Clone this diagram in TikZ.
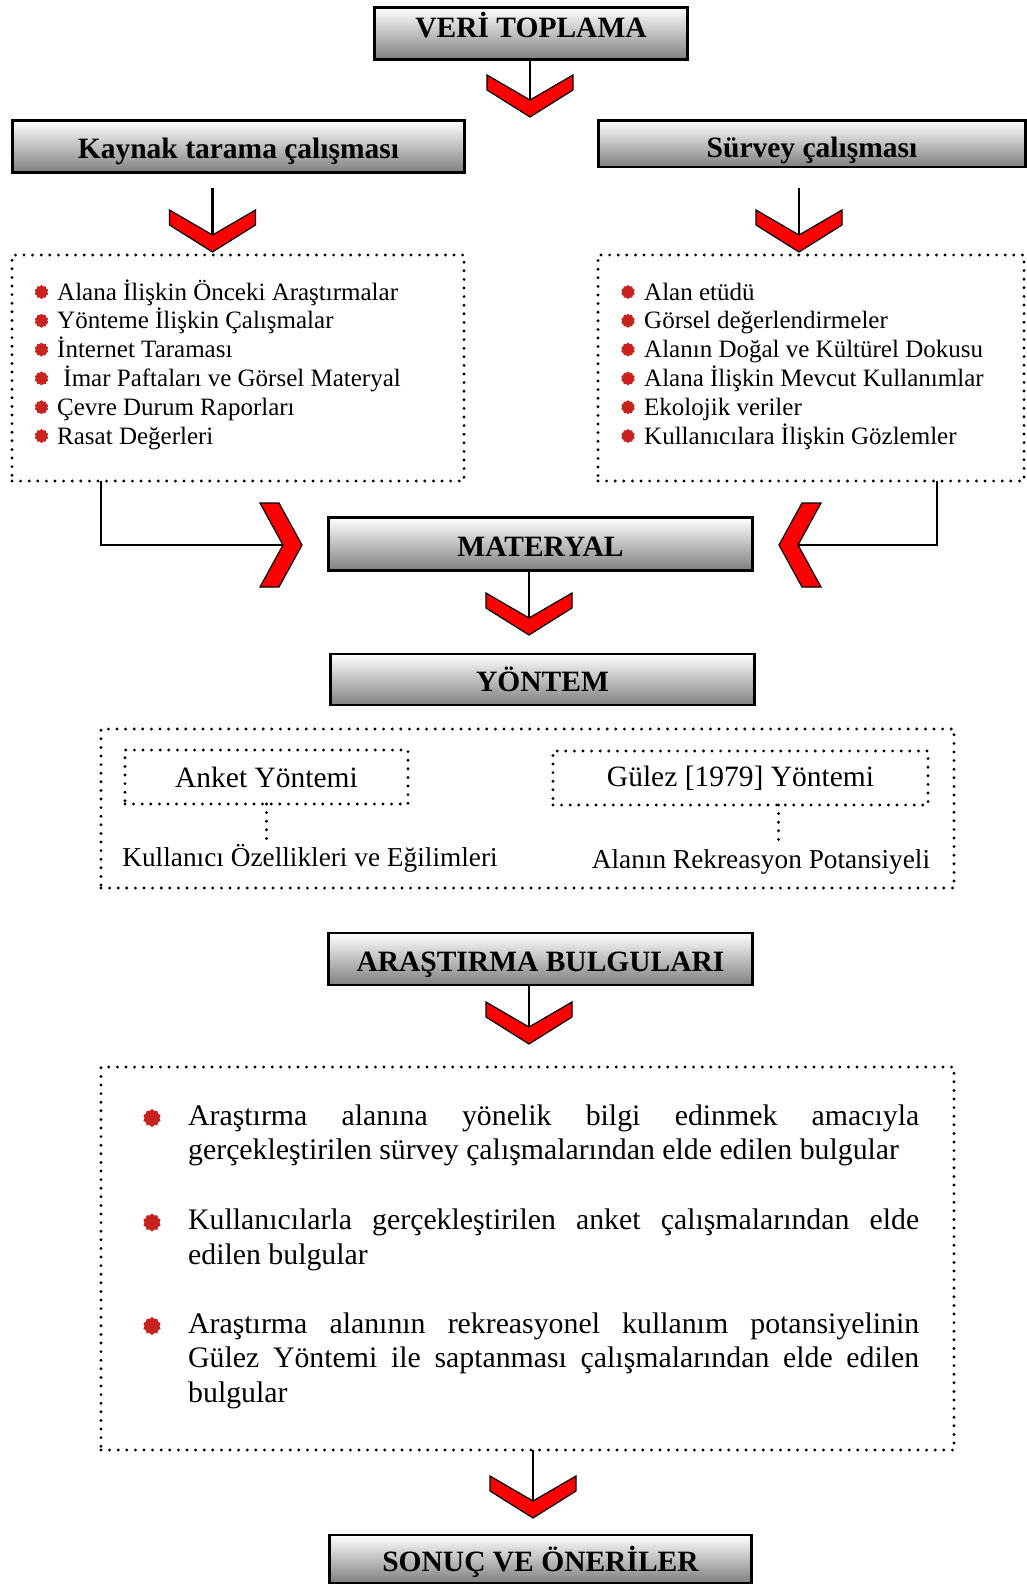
\documentclass[tikz,border=0pt]{standalone}
\usepackage{fontspec}
\setmainfont{Liberation Serif}
\usepackage{xcolor}
\usepackage{tikz}
\usetikzlibrary{arrows.meta,shapes.geometric,positioning}

\definecolor{chevred}{RGB}{255,0,0}
\definecolor{bulletred}{RGB}{200,35,30}

\newcommand{\parafont}{\fontsize{29.8}{34.7}\selectfont\hyphenpenalty 10000\relax}

\tikzset{
  chevdown/.pic={
    \draw[chevron] (0,0) -- (-43,-27) -- (-43,-42) -- (0,-17) -- (43,-42) -- (43,-27) -- cycle;
    \coordinate (-notch) at (0,-17);
  },
  chevright/.pic={
    \draw[chevron] (0,0) -- (-23,-42) -- (-42,-42) -- (-19,0) -- (-42,42) -- (-23,42) -- cycle;
    \coordinate (-notch) at (-19,0);
  }
}

\begin{document}
\begin{tikzpicture}[x=1pt, y=-1pt,
    headbox/.style={draw, line width=2.6pt, top color=white, bottom color=black!50,
      inner sep=0pt, font=\fontsize{29.5}{34}\selectfont\bfseries, text height=24pt, text depth=0pt},
    dotbox/.style={draw, line width=3.2pt, dash pattern=on 0pt off 8.6pt, line cap=round,
      outer sep=0pt, inner sep=0pt},
    dotline/.style={line width=3.2pt, dash pattern=on 0pt off 8.6pt, line cap=round},
    stem/.style={line width=2.8pt},
    chevron/.style={draw=black, line width=1.2pt, fill=chevred, line join=miter},
    bullet/.style={star, star points=10, star point ratio=1.2, fill=bulletred, draw=none,
      inner sep=0pt, minimum size=14pt},
    listtext/.style={anchor=base west, inner sep=0pt, font=\fontsize{25}{29}\selectfont},
    midtext/.style={anchor=base, inner sep=3pt, font=\fontsize{27.3}{32}\selectfont},
    para/.style={anchor=base west, inner sep=0pt, text width=731pt, align=justify,
      font=\parafont}]
  \useasboundingbox (0,0) rectangle (1026,1587);

  % Nodes
  \node[headbox, minimum width=313, minimum height=52, text height=14pt, text depth=6pt] (veri) at (531,33.5) {VERİ TOPLAMA};
  \node[headbox, minimum width=452, minimum height=52] (kaynak) at (238.5,146.5) {Kaynak tarama çalışması};
  \node[headbox, minimum width=427, minimum height=46.5, text height=28pt] (survey) at (812,143.75) {Sürvey çalışması};

  \node[dotbox, minimum width=452, minimum height=226] (kaynaklist) at (238,368) {};
  \node[dotbox, minimum width=426, minimum height=226] (survlist) at (811,368) {};

  % Listeler
  \foreach \txt [count=\i] in {Alana İlişkin Önceki Araştırmalar, Yönteme İlişkin Çalışmalar,
      İnternet Taraması, \ İmar Paftaları ve Görsel Materyal, Çevre Durum Raporları, Rasat Değerleri} {
    \node[bullet] (kb\i) at (41.5,{292+(\i-1)*28.8}) {};
    \node[listtext] (kt\i) at (57,{300+(\i-1)*28.8}) {\txt};
  }
  \foreach \txt [count=\i] in {Alan etüdü, Görsel değerlendirmeler, Alanın Doğal ve Kültürel Dokusu,
      Alana İlişkin Mevcut Kullanımlar, Ekolojik veriler, Kullanıcılara İlişkin Gözlemler} {
    \node[bullet] (sb\i) at (628,{292+(\i-1)*28.8}) {};
    \node[listtext] (st\i) at (644,{300+(\i-1)*28.8}) {\txt};
  }

  \node[headbox, minimum width=424, minimum height=52.5] (materyal) at (540.5,544) {MATERYAL};
  \node[headbox, minimum width=424, minimum height=51] (yontem) at (542.5,679.5) {YÖNTEM};

  \node[dotbox, minimum width=853, minimum height=159] (yontembox) at (527.5,808.5) {};
  \node[dotbox, minimum width=283, minimum height=54, font=\fontsize{29.5}{34}\selectfont] (anket) at (266.5,777) {Anket Yöntemi};
  \node[dotbox, minimum width=375, minimum height=54, font=\fontsize{29.5}{34}\selectfont] (gulez) at (740.5,778) {Gülez [1979] Yöntemi};
  \node[midtext] (kullanici) at (310,866) {Kullanıcı Özellikleri ve Eğilimleri};
  \node[midtext] (rekreasyon) at (761,868) {Alanın Rekreasyon Potansiyeli};

  \node[headbox, minimum width=424, minimum height=52] (bulgular) at (540.5,959) {ARAŞTIRMA BULGULARI};

  \node[dotbox, minimum width=853, minimum height=383] (bulgubox) at (527.5,1258.5) {};
  \node[bullet, minimum size=18pt] (bb1) at (152,1118) {};
  \node[para] (bp1) at (188,1125) {Araştırma alanına yönelik bilgi edinmek amacıyla\linebreak gerçekleştirilen sürvey çalışmalarından elde edilen bulgular};
  \node[bullet, minimum size=18pt] (bb2) at (152,1222.5) {};
  \node[para] (bp2) at (188,1229.5) {Kullanıcılarla gerçekleştirilen anket çalışmalarından elde\linebreak edilen bulgular};
  \node[bullet, minimum size=18pt] (bb3) at (152,1326) {};
  \node[para] (bp3) at (188,1333) {Araştırma alanının rekreasyonel kullanım potansiyelinin\linebreak Gülez Yöntemi ile saptanması çalışmalarından elde edilen\linebreak bulgular};

  \node[headbox, minimum width=422, minimum height=48] (sonuc) at (540.5,1559) {SONUÇ VE ÖNERİLER};

  % Okular
  \pic (c1) at (530,117) {chevdown};
  \pic (c2) at (212.5,252) {chevdown};
  \pic (c3) at (799,252) {chevdown};
  \pic (chl) at (302,545) {chevright};
  \pic[xscale=-1] (chr) at (779,545) {chevright};
  \pic (c4) at (529,635) {chevdown};
  \pic (c5) at (529,1044) {chevdown};
  \pic (c6) at (533,1518) {chevdown};

  % Baglantilar
  \draw[stem] (c1-notch |- veri.south) -- (c1-notch);
  \draw[stem, shorten <=14pt] (c2-notch |- kaynak.south) -- (c2-notch);
  \draw[stem, shorten <=20pt] (c3-notch |- survey.south) -- (c3-notch);
  \draw[stem] ([xshift=89pt]kaynaklist.south west) |- (chl-notch);
  \draw[stem] ([xshift=-87pt]survlist.south east) |- (chr-notch);
  \draw[stem] (c4-notch |- materyal.south) -- (c4-notch);
  \draw[dotline] (anket.south) -- (anket.south |- kullanici.north);
  \draw[dotline] ([xshift=38pt]gulez.south) -- ([xshift=38pt]gulez.south |- rekreasyon.north);
  \draw[stem] (c5-notch |- bulgular.south) -- (c5-notch);
  \draw[stem] (c6-notch |- bulgubox.south) -- (c6-notch);
\end{tikzpicture}
\end{document}
